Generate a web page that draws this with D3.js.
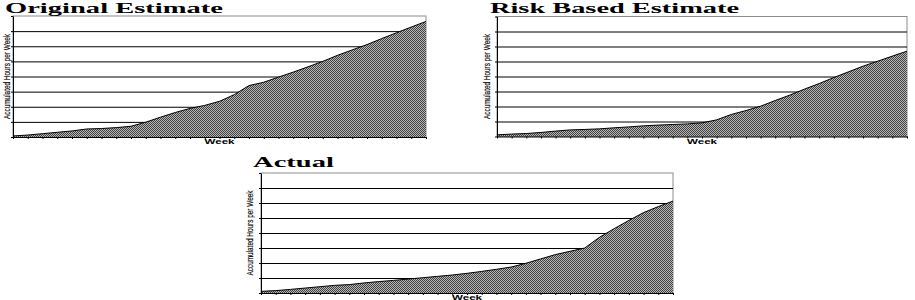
<!DOCTYPE html>
<html>
<head>
<meta charset="utf-8">
<script src="https://cdn.jsdelivr.net/npm/d3@7"></script>
<style>
  body { margin: 0; background: #fff; }
  svg { display: block; }
</style>
</head>
<body>
<svg id="chart" width="915" height="300"></svg>
<script>
// weeks on the x axis (29 points, area chart style)
const weeks = [1, 2, 3, 4, 5, 6, 7, 8, 9, 10, 11, 12, 13, 14, 15, 16, 17, 18, 19, 20,
  21, 22, 23, 24, 25, 26, 27, 28, 29];
// gridline values (accumulated hours, in gridline units)
const yTicks = [0, 1, 2, 3, 4, 5, 6, 7, 8];

const originalEstimate = [0.07, 0.13, 0.22, 0.31, 0.4, 0.53, 0.56, 0.62, 0.71, 0.98,
  1.31, 1.62, 1.89, 2.09, 2.36, 2.8, 3.4, 3.62, 3.96, 4.29,
  4.64, 5.0, 5.4, 5.76, 6.11, 6.51, 6.89, 7.27, 7.64];
const riskBasedEstimate = [0.11, 0.16, 0.2, 0.27, 0.36, 0.44, 0.47, 0.51, 0.58, 0.64,
  0.71, 0.76, 0.8, 0.84, 0.91, 1.11, 1.47, 1.73, 2.02, 2.4,
  2.76, 3.16, 3.53, 3.93, 4.31, 4.69, 5.02, 5.36, 5.69];
const actual = [0.11, 0.16, 0.24, 0.33, 0.42, 0.51, 0.56, 0.67, 0.76, 0.84,
  0.93, 1.02, 1.11, 1.2, 1.31, 1.44, 1.58, 1.73, 1.98, 2.27,
  2.56, 2.78, 3.0, 3.71, 4.29, 4.84, 5.36, 5.76, 6.13];

const yLabel = "Accumulated Hours per Week";
const xLabel = "Week";

const charts = [
  { title: "Original Estimate", values: originalEstimate,
    x0: 13, x1: 426, y0: 16, y1: 137, titleX: 5, titleY: 12.5, titleW: 218, labelX: 9.5 },
  { title: "Risk Based Estimate", values: riskBasedEstimate,
    x0: 497, x1: 907, y0: 16.5, y1: 136.5, titleX: 490, titleY: 12.5, titleW: 249, labelX: 489.5 },
  { title: "Actual", values: actual,
    x0: 261, x1: 673, y0: 173, y1: 293, titleX: 253, titleY: 167, titleW: 81, labelX: 252.5 }
];

const svg = d3.select("#chart");

// dithered grey fill like the old print
const pat = svg.append("defs").append("pattern")
  .attr("id", "dither")
  .attr("patternUnits", "userSpaceOnUse")
  .attr("width", 2)
  .attr("height", 2);
pat.append("rect").attr("width", 2).attr("height", 2).attr("fill", "#b8b8b8");
pat.append("rect").attr("x", 0).attr("y", 0).attr("width", 1).attr("height", 1).attr("fill", "#404040");
pat.append("rect").attr("x", 1).attr("y", 1).attr("width", 1).attr("height", 1).attr("fill", "#404040");

charts.forEach(c => {
  const x = d3.scalePoint().domain(weeks).range([c.x0, c.x1]);
  const y = d3.scaleLinear().domain([0, 8]).range([c.y1, c.y0]);
  const g = svg.append("g");

  // plot border (top & right in grey)
  g.append("rect")
    .attr("x", c.x0).attr("y", c.y0)
    .attr("width", c.x1 - c.x0).attr("height", c.y1 - c.y0)
    .attr("fill", "#fff")
    .attr("stroke", "#8c8c8c")
    .attr("stroke-width", 1);

  // gridlines
  g.append("g")
    .attr("transform", `translate(${c.x0},0)`)
    .call(d3.axisLeft(y).tickValues(yTicks.slice(1, -1)).tickSize(-(c.x1 - c.x0)).tickFormat(""))
    .call(a => a.select(".domain").remove())
    .selectAll("line").attr("stroke", "#000");

  const data = weeks.map((w, i) => ({ w, v: c.values[i] }));

  g.append("path")
    .datum(data)
    .attr("fill", "url(#dither)")
    .attr("d", d3.area().x(d => x(d.w)).y0(y(0)).y1(d => y(d.v)));

  g.append("path")
    .datum(data)
    .attr("fill", "none")
    .attr("stroke", "#000")
    .attr("stroke-width", 1)
    .attr("d", d3.line().x(d => x(d.w)).y(d => y(d.v)));

  // left axis with small outside ticks
  g.append("g")
    .attr("transform", `translate(${c.x0},0)`)
    .call(d3.axisLeft(y).tickValues(yTicks).tickSize(2).tickSizeOuter(0).tickFormat(""))
    .call(a => a.selectAll("path, line").attr("stroke", "#000"));

  // bottom axis with week ticks
  g.append("g")
    .attr("transform", `translate(0,${c.y1})`)
    .call(d3.axisBottom(x).tickSize(2).tickSizeOuter(0).tickFormat(""))
    .call(a => a.selectAll("path, line").attr("stroke", "#000"));

  // title
  svg.append("text")
    .attr("x", c.titleX).attr("y", c.titleY)
    .attr("font-family", "'Liberation Serif', 'Times New Roman', serif")
    .attr("font-weight", "bold")
    .attr("font-size", 14)
    .attr("textLength", c.titleW)
    .attr("lengthAdjust", "spacingAndGlyphs")
    .text(c.title);

  // y label
  const cy = (c.y0 + c.y1) / 2;
  svg.append("text")
    .attr("transform", `translate(${c.labelX},${cy}) rotate(-90)`)
    .attr("text-anchor", "middle")
    .attr("font-family", "'Liberation Sans Narrow', 'Liberation Sans', Arial, sans-serif")
    .attr("font-size", 9)
    .attr("fill", "#000")
    .attr("stroke", "#000")
    .attr("stroke-width", 0.15)
    .attr("textLength", 85)
    .attr("lengthAdjust", "spacingAndGlyphs")
    .text(yLabel);

  // x label
  svg.append("text")
    .attr("x", (c.x0 + c.x1) / 2 - 15).attr("y", c.y1 + 7)
    .attr("font-family", "'Liberation Sans', Arial, sans-serif")
    .attr("font-weight", "bold")
    .attr("font-size", 7)
    .attr("textLength", 30)
    .attr("lengthAdjust", "spacingAndGlyphs")
    .text(xLabel);
});
</script>
</body>
</html>
